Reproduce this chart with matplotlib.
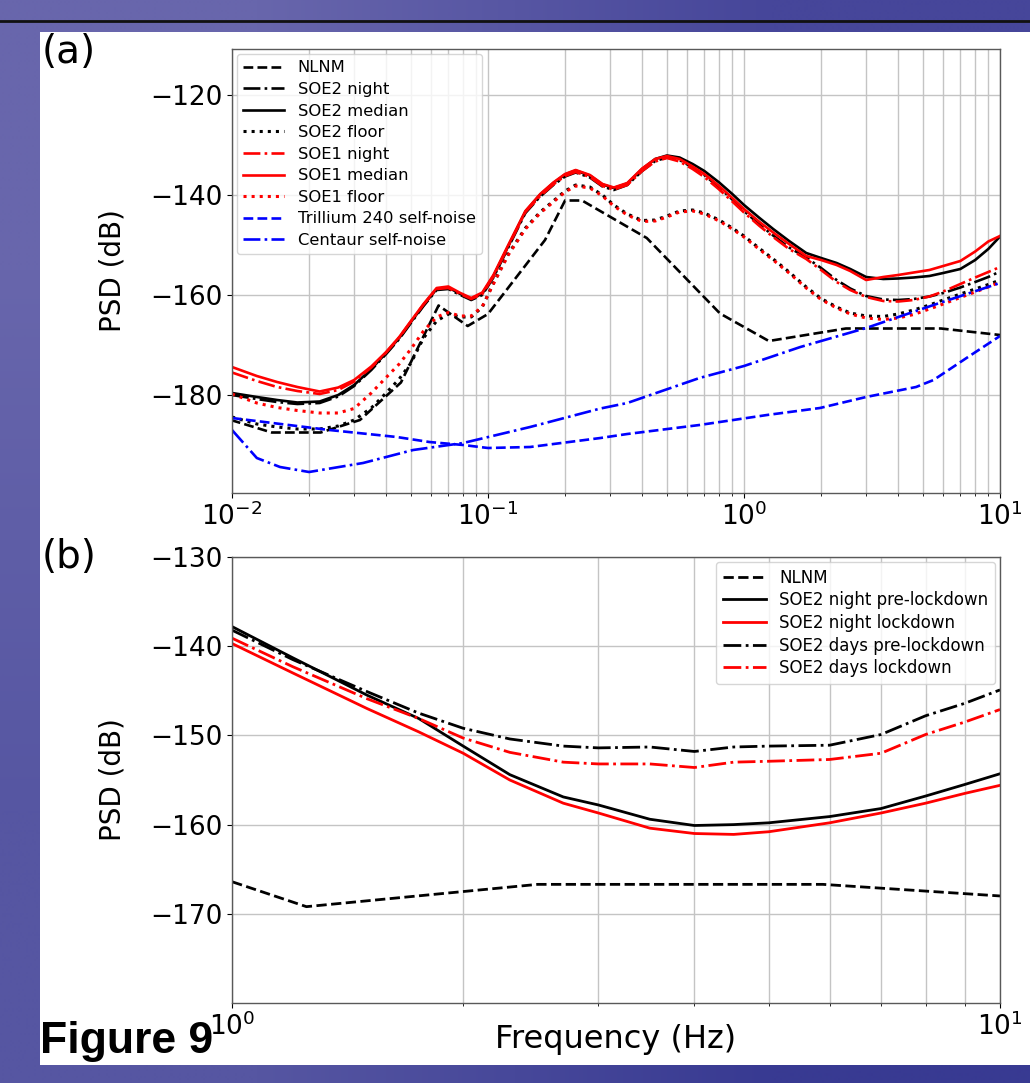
import numpy as np
import matplotlib
matplotlib.use('Agg')
import matplotlib.pyplot as plt
from matplotlib.patches import Rectangle
from matplotlib.lines import Line2D
from matplotlib.ticker import NullFormatter

# ---------------- data: panel (a) ----------------
nlnm_freq = [0.0099, 0.0143, 0.0222, 0.0316, 0.0457, 0.0641, 0.0833, 0.1, 0.167, 0.2,
             0.233, 0.417, 0.806, 1.25, 2.5, 5.88, 10.0]
nlnm_db = [-185.0, -187.5, -187.5, -185.0, -177.5, -162.1, -166.2, -163.8, -149.0, -141.1,
           -141.1, -148.6, -163.7, -169.2, -166.7, -166.7, -168.0]

soe_freq = [0.01, 0.0125, 0.015, 0.018, 0.022, 0.026, 0.03, 0.035, 0.04, 0.045, 0.05, 0.056,
            0.063, 0.07, 0.078, 0.086, 0.095, 0.105, 0.12, 0.14, 0.16, 0.18, 0.2, 0.22, 0.25,
            0.28, 0.31, 0.35, 0.4, 0.45, 0.5, 0.56, 0.63, 0.7, 0.8, 0.9, 1.0, 1.15, 1.3, 1.5,
            1.75, 2.0, 2.3, 2.6, 3.0, 3.5, 4.0, 4.6, 5.3, 6.0, 7.0, 8.0, 9.0, 10.0]

soe2_night = [-180.0, -180.8, -181.4, -181.8, -181.6, -180.3, -178.2, -175.0, -171.8, -168.8,
              -165.6, -162.2, -159.0, -158.8, -160.0, -161.0, -160.0, -156.5, -150.5, -143.6,
              -140.3, -138.0, -136.3, -135.5, -136.5, -138.3, -139.0, -138.0, -135.2, -133.2,
              -132.5, -133.0, -134.5, -136.0, -138.5, -140.9, -143.2, -145.9, -148.1, -150.5,
              -152.5, -154.6, -157.0, -158.7, -160.2, -160.9, -161.0, -160.8, -160.3, -159.6,
              -158.5, -157.4, -156.4, -155.3]
soe2_median = [-179.6, -180.4, -181.0, -181.5, -181.3, -180.0, -178.0, -174.8, -171.6, -168.6,
               -165.4, -162.0, -158.8, -158.5, -159.8, -160.8, -159.7, -156.2, -150.2, -143.3,
               -139.9, -137.6, -135.9, -135.1, -136.1, -137.9, -138.6, -137.7, -134.8, -132.8,
               -132.1, -132.5, -133.8, -135.2, -137.5, -139.8, -142.0, -144.6, -146.8, -149.2,
               -151.6, -152.6, -153.6, -154.8, -156.4, -156.8, -156.7, -156.5, -156.2, -155.6,
               -154.8, -153.0, -150.8, -148.3]
soe2_floor = [-184.4, -185.8, -186.4, -186.8, -186.8, -186.2, -185.0, -182.6, -179.6, -176.8,
              -173.6, -168.6, -165.2, -163.8, -164.4, -164.4, -162.4, -157.6, -151.8, -146.6,
              -143.4, -141.2, -139.2, -138.0, -138.4, -140.0, -142.0, -143.8, -145.1, -145.0,
              -144.2, -143.2, -143.0, -143.6, -145.0, -146.6, -148.2, -150.7, -152.8, -155.4,
              -158.4, -160.7, -162.4, -163.6, -164.2, -164.3, -163.8, -163.0, -162.0, -161.0,
              -159.8, -158.8, -157.9, -157.0]
soe1_night = [-175.5, -177.2, -178.4, -179.2, -179.8, -179.0, -177.3, -174.5, -171.5, -168.5,
              -165.3, -161.9, -158.8, -158.6, -159.8, -160.8, -159.8, -156.3, -150.3, -143.4,
              -140.2, -137.9, -136.2, -135.4, -136.4, -138.2, -138.9, -138.0, -135.2, -133.3,
              -132.6, -133.3, -134.8, -136.4, -138.9, -141.3, -143.5, -146.2, -148.4, -150.8,
              -152.8, -155.0, -157.4, -159.0, -160.4, -161.2, -161.3, -161.0, -160.3, -159.3,
              -157.8, -156.5, -155.4, -154.4]
soe1_median = [-174.4, -176.2, -177.4, -178.4, -179.3, -178.5, -177.0, -174.3, -171.4, -168.4,
               -165.2, -161.8, -158.6, -158.3, -159.6, -160.6, -159.5, -156.0, -150.0, -143.2,
               -139.8, -137.5, -135.8, -135.0, -136.0, -137.8, -138.5, -137.6, -134.7, -132.8,
               -132.2, -132.8, -134.3, -135.8, -138.2, -140.6, -142.8, -145.4, -147.5, -149.8,
               -152.2, -153.0, -154.0, -155.2, -157.0, -156.4, -156.0, -155.5, -155.0, -154.2,
               -153.2, -151.3, -149.3, -148.2]
soe1_floor = [-179.8, -181.6, -182.5, -183.1, -183.6, -183.6, -182.7, -179.6, -176.5, -173.8,
              -170.8, -167.2, -164.4, -163.5, -164.2, -164.2, -162.3, -157.8, -152.0, -146.8,
              -143.6, -141.4, -139.4, -138.2, -138.6, -140.2, -142.2, -144.0, -145.3, -145.2,
              -144.4, -143.4, -143.2, -143.8, -145.2, -146.8, -148.4, -150.9, -153.0, -155.6,
              -158.6, -160.9, -162.6, -163.8, -164.6, -164.9, -164.6, -163.9, -162.8, -161.8,
              -160.5, -159.4, -158.4, -157.4]

trillium_freq = [0.01, 0.024, 0.044, 0.059, 0.08, 0.10, 0.146, 0.275, 0.35, 0.67, 1.23,
                 1.98, 3.0, 4.7, 5.5, 7.5, 10.0]
trillium_db = [-184.6, -187.0, -188.4, -189.4, -190.0, -190.6, -190.4, -188.6, -187.8, -186.0,
               -184.0, -182.6, -180.4, -178.4, -177.0, -172.4, -168.2]

centaur_freq = [0.01, 0.0125, 0.0154, 0.020, 0.0325, 0.051, 0.08, 0.146, 0.275, 0.35, 0.67,
                1.0, 1.66, 3.0, 5.5, 10.0]
centaur_db = [-187.0, -192.6, -194.4, -195.4, -193.6, -191.0, -189.6, -186.4, -182.7, -181.6,
              -176.6, -174.2, -170.4, -166.6, -162.0, -157.6]

# ---------------- data: panel (b) ----------------
b_freq = [1.0, 1.2, 1.5, 1.75, 2.0, 2.3, 2.7, 3.0, 3.5, 4.0, 4.5, 5.0, 6.0, 7.0, 8.0, 9.0, 10.0]
night_pre = [-137.8, -141.3, -145.5, -148.1, -151.2, -154.4, -156.9, -157.8, -159.4, -160.1,
             -160.0, -159.8, -159.1, -158.2, -156.8, -155.5, -154.3]
night_lock = [-139.7, -143.0, -147.0, -149.6, -152.0, -155.0, -157.6, -158.7, -160.4, -161.0,
              -161.1, -160.8, -159.8, -158.7, -157.6, -156.5, -155.6]
days_pre = [-138.2, -141.5, -145.1, -147.5, -149.2, -150.4, -151.2, -151.4, -151.3, -151.8,
            -151.3, -151.2, -151.1, -149.9, -147.8, -146.4, -144.9]
days_lock = [-139.1, -142.3, -145.9, -148.1, -150.3, -151.9, -153.0, -153.2, -153.2, -153.6,
             -153.0, -152.9, -152.7, -152.0, -149.9, -148.5, -147.1]

# ---------------- figure ----------------
W, H = 1030, 1083
fig = plt.figure(figsize=(W / 100, H / 100), dpi=100)

bg = fig.add_axes([0, 0, 1, 1], zorder=-10)
grad = np.array([[[104, 102, 172], [70, 70, 154]],
                 [[86, 86, 162], [56, 58, 146]]]) / 255.0
bg.imshow(grad, extent=[0, 1, 0, 1], aspect='auto', interpolation='bilinear')
bg.set_axis_off()

fig.add_artist(Rectangle((40 / W, 1 - 1065 / H), (W - 40) / W, (1065 - 32) / H,
                         transform=fig.transFigure, facecolor='white', edgecolor='none',
                         zorder=-5))
fig.add_artist(Line2D([0, 1], [1 - 21 / H, 1 - 21 / H], transform=fig.transFigure,
                      color='#111111', lw=2, zorder=-4))

TICK_FS = 19
LABEL_FS = 20
grid_kw = dict(color='#c4c4c4', lw=1.0)

# Panel (a)
ax1 = fig.add_axes([232 / W, 1 - 493 / H, 768 / W, 444 / H])
lw = 1.9
ax1.semilogx(nlnm_freq, nlnm_db, 'k--', lw=lw, label='NLNM')
ax1.semilogx(soe_freq, soe2_night, 'k-.', lw=lw, label='SOE2 night')
ax1.semilogx(soe_freq, soe2_median, 'k-', lw=lw, label='SOE2 median')
ax1.semilogx(soe_freq, soe2_floor, 'k:', lw=2.2, label='SOE2 floor')
ax1.semilogx(soe_freq, soe1_night, 'r-.', lw=lw, label='SOE1 night')
ax1.semilogx(soe_freq, soe1_median, 'r-', lw=lw, label='SOE1 median')
ax1.semilogx(soe_freq, soe1_floor, 'r:', lw=2.2, label='SOE1 floor')
ax1.semilogx(trillium_freq, trillium_db, 'b--', lw=lw, label='Trillium 240 self-noise')
ax1.semilogx(centaur_freq, centaur_db, 'b-.', lw=lw, label='Centaur self-noise')
ax1.set_xlim(0.01, 10)
ax1.set_ylim(-199.6, -110.8)
ax1.set_yticks([-180, -160, -140, -120])
ax1.grid(True, which='both', axis='x', **grid_kw)
ax1.grid(True, which='major', axis='y', **grid_kw)
ax1.set_ylabel('PSD (dB)', fontsize=LABEL_FS)
ax1.yaxis.set_label_coords(-0.138, 0.5)
ax1.legend(loc='upper left', fontsize=11.8, framealpha=0.8, borderaxespad=0.3,
           handlelength=2.5, labelspacing=0.4)

# Panel (b)
ax2 = fig.add_axes([232 / W, 1 - 1003 / H, 768 / W, 446 / H])
lw2 = 2.0
ax2.semilogx(nlnm_freq, nlnm_db, 'k--', lw=lw2, label='NLNM')
ax2.semilogx(b_freq, night_pre, 'k-', lw=lw2, label='SOE2 night pre-lockdown')
ax2.semilogx(b_freq, night_lock, 'r-', lw=lw2, label='SOE2 night lockdown')
ax2.semilogx(b_freq, days_pre, 'k-.', lw=lw2, label='SOE2 days pre-lockdown')
ax2.semilogx(b_freq, days_lock, 'r-.', lw=lw2, label='SOE2 days lockdown')
ax2.set_xlim(1, 10)
ax2.set_ylim(-180, -130)
ax2.set_yticks([-170, -160, -150, -140, -130])
ax2.xaxis.set_minor_formatter(NullFormatter())
ax2.grid(True, which='both', axis='x', **grid_kw)
ax2.grid(True, which='major', axis='y', **grid_kw)
ax2.set_ylabel('PSD (dB)', fontsize=LABEL_FS)
ax2.yaxis.set_label_coords(-0.138, 0.5)
ax2.set_xlabel('Frequency (Hz)', fontsize=23)
ax2.xaxis.set_label_coords(0.5, -0.048)
ax2.legend(loc='upper right', fontsize=12.0, framealpha=0.8, borderaxespad=0.3,
           handlelength=2.6, labelspacing=0.28)

for ax in (ax1, ax2):
    ax.tick_params(axis='both', which='major', labelsize=TICK_FS)
    for s in ax.spines.values():
        s.set_color('0.35')
        s.set_linewidth(1.0)

fig.text(42 / W, 1 - 52 / H, '(a)', fontsize=28, va='center', ha='left')
fig.text(42 / W, 1 - 557 / H, '(b)', fontsize=28, va='center', ha='left')
fig.text(40 / W, 1 - 1042 / H, 'Figure 9', fontsize=32, fontweight='bold',
         family=['Liberation Sans', 'DejaVu Sans'], va='center', ha='left')

fig.savefig('out.png', dpi=100)
